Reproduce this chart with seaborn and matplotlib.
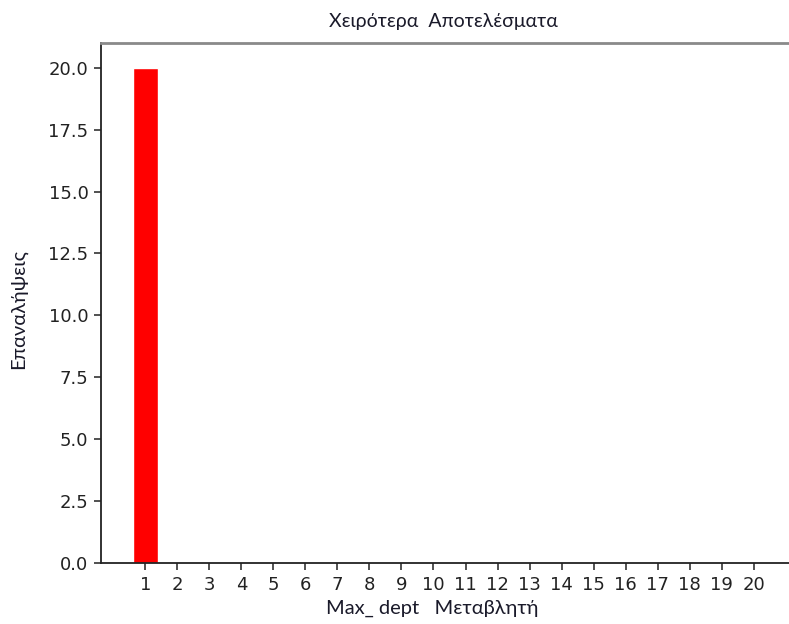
import matplotlib
matplotlib.use("Agg")
import matplotlib.pyplot as plt
import seaborn as sns
import pandas as pd

# Max_depth values and how many times each gave the worst result
depth_values = list(range(1, 21))
repetitions = [20] + [0] * 19
tick_labels = [str(v) for v in depth_values]

title_text = "Χειρότερα  Αποτελέσματα"
xlabel_text = "Max_ dept   Μεταβλητή"
ylabel_text = "Επαναλήψεις"

df = pd.DataFrame({"depth": depth_values, "count": repetitions})

sns.set_style("ticks")
plt.rcParams["font.family"] = ["DejaVu Sans"]

fig = plt.figure(figsize=(7.89, 6.24), dpi=100)
# axes runs slightly past the right border of the figure
ax = fig.add_axes([101 / 789, 1 - 563 / 624, (798 - 101) / 789, (563 - 43) / 624])

sns.barplot(data=df, x="depth", y="count", order=depth_values,
            color="red", saturation=1, width=0.8, ax=ax)

ax.set_xlim(-1.39, 20.39)
ax.set_ylim(0, 21)
yticks = [0, 2.5, 5, 7.5, 10, 12.5, 15, 17.5, 20]
ax.set_yticks(yticks)
ax.set_yticklabels([f"{v:.1f}" for v in yticks])
ax.set_xticks(range(len(depth_values)))
ax.set_xticklabels(tick_labels)
ax.tick_params(axis="both", labelsize=13, length=5, width=1.1,
               colors="#222222", pad=4)

for side in ["left", "bottom"]:
    ax.spines[side].set_color("#222222")
    ax.spines[side].set_linewidth(1.3)
ax.spines["top"].set_color("#8a8a8a")
ax.spines["top"].set_linewidth(2.0)
ax.spines["right"].set_color("#222222")

ax.set_xlabel("")
ax.set_ylabel("")

label_font = ["Lato", "DejaVu Sans"]
fig.text(443 / 789, 1 - 22 / 624, title_text, ha="center", va="center",
         fontsize=14, family=label_font, color="#1a1a2a")
fig.text(432 / 789, 1 - 608 / 624, xlabel_text, ha="center", va="center",
         fontsize=14.5, family=label_font, color="#1a1a2a")
fig.text(18 / 789, 1 - 309 / 624, ylabel_text, ha="center", va="center",
         rotation=90, fontsize=14.5, family=label_font, color="#1a1a2a")

fig.savefig("out.png", dpi=100)
